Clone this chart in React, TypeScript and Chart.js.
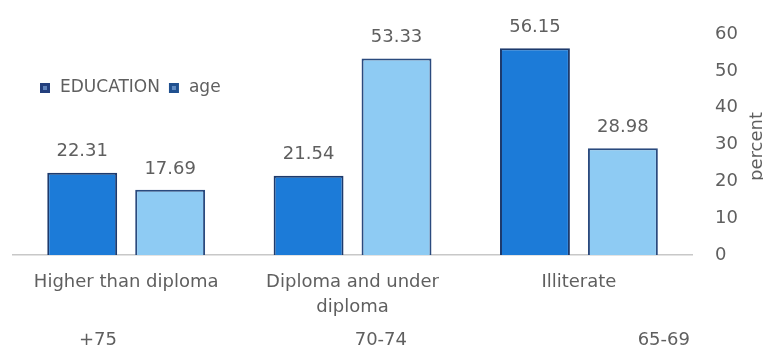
import React, { useEffect, useRef } from 'react';
import { Chart, registerables } from 'chart.js';

Chart.register(...registerables);

const categories: string[][] = [['Higher than diploma'], ['Diploma and under', 'diploma'], ['Illiterate']];
const seriesNames = ['EDUCATION', 'age'];
const educationValues = [22.31, 21.54, 56.15];
const ageValues = [17.69, 53.33, 28.98];
const ageTickLabels = ['', '+75', '', '', '', '', '70-74', '', '', '', '', '65-69'];
const yMin = 0;
const yMax = 60;
const yStep = 10;
const yTitle = 'percent';

const FONT = '"DejaVu Sans", sans-serif';
const TEXT = '#5f5f5f';

const valueLabelPlugin = {
  id: 'valueLabels',
  afterDatasetsDraw(chart: any) {
    const ctx = chart.ctx;
    ctx.save();
    ctx.font = `18px ${FONT}`;
    ctx.fillStyle = TEXT;
    ctx.textAlign = 'center';
    ctx.textBaseline = 'middle';
    chart.data.datasets.forEach((ds: any, i: number) => {
      const meta = chart.getDatasetMeta(i);
      meta.data.forEach((bar: any, j: number) => {
        ctx.fillText(Number(ds.data[j]).toFixed(2), bar.x, bar.y - 21);
      });
    });
    ctx.restore();
  },
};

const legendPlugin = {
  id: 'customLegend',
  afterDraw(chart: any) {
    const ctx = chart.ctx;
    const area = chart.chartArea;
    ctx.save();
    ctx.font = `17px ${FONT}`;
    ctx.textBaseline = 'middle';
    let x = area.left + 27;
    const y = area.top + 54;
    chart.data.datasets.forEach((ds: any) => {
      ctx.fillStyle = ds.legendColor;
      ctx.fillRect(x, y - 5, 10, 10);
      ctx.fillStyle = 'rgba(150,190,240,0.55)';
      ctx.fillRect(x + 3, y - 2, 4, 4);
      x += 20;
      ctx.fillStyle = TEXT;
      ctx.fillText(ds.label, x, y);
      x += ctx.measureText(ds.label).width + 9;
    });
    ctx.restore();
  },
};

const yTitlePlugin = {
  id: 'yTitle',
  afterDraw(chart: any) {
    const ctx = chart.ctx;
    const area = chart.chartArea;
    ctx.save();
    ctx.font = `18px ${FONT}`;
    ctx.fillStyle = TEXT;
    ctx.textAlign = 'center';
    ctx.textBaseline = 'alphabetic';
    ctx.translate(chart.width - 1, (area.top + area.bottom) / 2 + 2);
    ctx.rotate(-Math.PI / 2);
    ctx.fillText(yTitle, 0, 0);
    ctx.restore();
  },
};

export default function App() {
  const ref = useRef<HTMLCanvasElement | null>(null);
  useEffect(() => {
    document.body.style.margin = '0';
    const canvas = ref.current!;
    const chart = new Chart(canvas, {
      type: 'bar',
      data: {
        labels: categories,
        datasets: [
          {
            label: seriesNames[0],
            data: educationValues,
            backgroundColor: '#1c7bd8',
            borderColor: '#1d3a6c',
            borderWidth: 2,
            legendColor: '#233f7d',
          } as any,
          {
            label: seriesNames[1],
            data: ageValues,
            backgroundColor: '#8ecbf3',
            borderColor: '#2a4a7e',
            borderWidth: 2,
            legendColor: '#20508f',
          } as any,
        ],
      },
      options: {
        animation: false,
        responsive: false,
        layout: { padding: { top: 34, left: 13, right: 25, bottom: 0 } },
        categoryPercentage: 0.777,
        barPercentage: 0.795,
        plugins: {
          legend: { display: false },
          tooltip: { enabled: false },
        },
        scales: {
          x: {
            position: 'bottom',
            grid: { display: false, drawTicks: false },
            border: { display: true, color: '#c8c8c8', width: 1.5 },
            ticks: {
              color: TEXT,
              font: { family: FONT, size: 18, lineHeight: 1.4 },
              padding: 15,
              maxRotation: 0,
              autoSkip: false,
            },
            afterFit: (s: any) => {
              s.height -= 18;
            },
          },
          x2: {
            type: 'category',
            position: 'bottom',
            labels: ageTickLabels,
            grid: { display: false, drawTicks: false },
            border: { display: false },
            ticks: {
              color: TEXT,
              font: { family: FONT, size: 18 },
              padding: 12,
              maxRotation: 0,
              autoSkip: false,
            },
            afterFit: (s: any) => {
              s.height -= 16;
            },
          },
          y: {
            position: 'right',
            min: yMin,
            max: yMax,
            grid: { display: false, drawTicks: false },
            border: { display: false },
            ticks: {
              stepSize: yStep,
              color: TEXT,
              font: { family: FONT, size: 18 },
              padding: 23,
            },
            afterFit: (s: any) => {
              s.width -= 23;
            },
          },
        },
      } as any,
      plugins: [valueLabelPlugin, legendPlugin, yTitlePlugin],
    });
    return () => chart.destroy();
  }, []);
  return (
    <div style={{ width: 763, height: 347 }}>
      <canvas ref={ref} width={763} height={347} style={{ display: 'block' }} />
    </div>
  );
}
